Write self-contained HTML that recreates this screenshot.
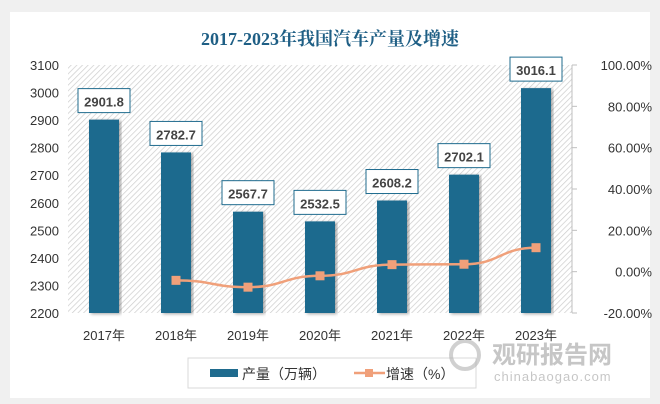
<!DOCTYPE html>
<html><head><meta charset="utf-8"><style>
body{margin:0;background:#f0f0f0;font-family:"Liberation Sans","Noto Sans CJK SC",sans-serif;}
svg{display:block}
</style></head><body>
<svg id="c" width="660" height="404" xmlns="http://www.w3.org/2000/svg">
<defs>
<pattern id="hatch" width="4" height="4" patternUnits="userSpaceOnUse" patternTransform="rotate(45)">
<rect width="4" height="4" fill="#ffffff"/><line x1="0" y1="0" x2="0" y2="4" stroke="#cccccc" stroke-width="1.4"/>
</pattern>
<filter id="sh"><feDropShadow dx="2" dy="1" stdDeviation="1.5" flood-color="#000" flood-opacity="0.35"/></filter>
</defs>
<rect x="10" y="12" width="640" height="386" fill="#fff"/>
<text x="330" y="45" text-anchor="middle" font-family="'Liberation Serif','Noto Serif CJK SC',serif" font-size="18" font-weight="bold" fill="#1f5f85">2017-2023年我国汽车产量及增速</text>
<rect x="68" y="65" width="504" height="248" fill="url(#hatch)"/>
<g id="g"></g>
<g>
<rect x="188" y="358" width="288" height="30" fill="#fff" stroke="#d9d9d9"/>
<rect x="210" y="369" width="28" height="8" fill="#1f6b8e"/>
<text x="242" y="379" font-size="14" fill="#333">产量（万辆）</text>
<line x1="354" y1="373" x2="385" y2="373" stroke="#f0a07a" stroke-width="2.5"/>
<rect x="365" y="369" width="8" height="8" fill="#f0a07a"/>
<text x="386" y="379" font-size="14" fill="#333">增速（%）</text>
</g>
<g opacity="0.55">
<circle cx="465" cy="355" r="14" fill="none" stroke="#aaa" stroke-width="4"/>
<text x="492" y="363" font-size="24" font-weight="bold" fill="#999">观研报告网</text>
<text x="494" y="381" font-size="13" fill="#999" letter-spacing="1">chinabaogao.com</text>
</g>
</svg>
<script>
const years=["2017年","2018年","2019年","2020年","2021年","2022年","2023年"];
const production=[2901.8,2782.7,2567.7,2532.5,2608.2,2702.1,3016.1];
const growth=[null,-4.2,-7.5,-2.0,3.4,3.6,11.6];
const leftTicks=[2200,2300,2400,2500,2600,2700,2800,2900,3000,3100];
const rightTicks=[-20,0,20,40,60,80,100];
const NS="http://www.w3.org/2000/svg";
const g=document.getElementById('g');
const x0=68,bw=72,plotTop=65,plotBot=313;
const yL=v=>plotBot-(v-2200)/900*(plotBot-plotTop);
const yR=v=>plotBot-(v+20)/120*(plotBot-plotTop);
const xc=i=>x0+bw*(i+0.5);
function el(t,a,txt){const e=document.createElementNS(NS,t);for(const k in a)e.setAttribute(k,a[k]);if(txt!==undefined)e.textContent=txt;g.appendChild(e);return e;}
leftTicks.forEach(v=>{const t=el('text',{x:30,y:yL(v)+5,'font-size':13,fill:'#333','text-anchor':'start'},v);

});
el('line',{x1:572,y1:plotTop,x2:572,y2:plotBot,stroke:'#bfbfbf'});
rightTicks.forEach(v=>{el('line',{x1:572,y1:yR(v),x2:577,y2:yR(v),stroke:'#bfbfbf'});
const t=el('text',{x:652,y:yR(v)+5,'font-size':13,fill:'#333','text-anchor':'end'},v.toFixed(2)+'%');

});
years.forEach((y,i)=>{
const t=el('text',{x:xc(i),y:340,'font-size':13,fill:'#333','text-anchor':'middle'},y);


const h=yL(production[i]);
const b=el('rect',{x:xc(i)-15,y:h,width:30,height:plotBot-h,fill:'#1f6b8e',filter:'url(#sh)'});


el('rect',{x:xc(i)-26,y:h-31,width:52,height:24,fill:'#fff',stroke:'#1f6b8e','stroke-width':1});
const l=el('text',{x:xc(i),y:h-13,'font-size':13,'font-weight':'bold',fill:'#444','text-anchor':'middle'},production[i].toFixed(1));


});
let pts=[];growth.forEach((v,i)=>{if(v!==null)pts.push([xc(i),yR(v)]);});
let d='M'+pts[0].join(',');
for(let i=1;i<pts.length;i++){const p=pts[i-1],q=pts[i],dx=(q[0]-p[0])/2;d+=` C${p[0]+dx},${p[1]} ${q[0]-dx},${q[1]} ${q[0]},${q[1]}`;}
const ln=el('path',{d:d,fill:'none',stroke:'#f0a07a','stroke-width':2.5});


pts.forEach(p=>{const m=el('rect',{x:p[0]-4.5,y:p[1]-4.5,width:9,height:9,fill:'#f0a07a'});

});
</script>
</body></html>
